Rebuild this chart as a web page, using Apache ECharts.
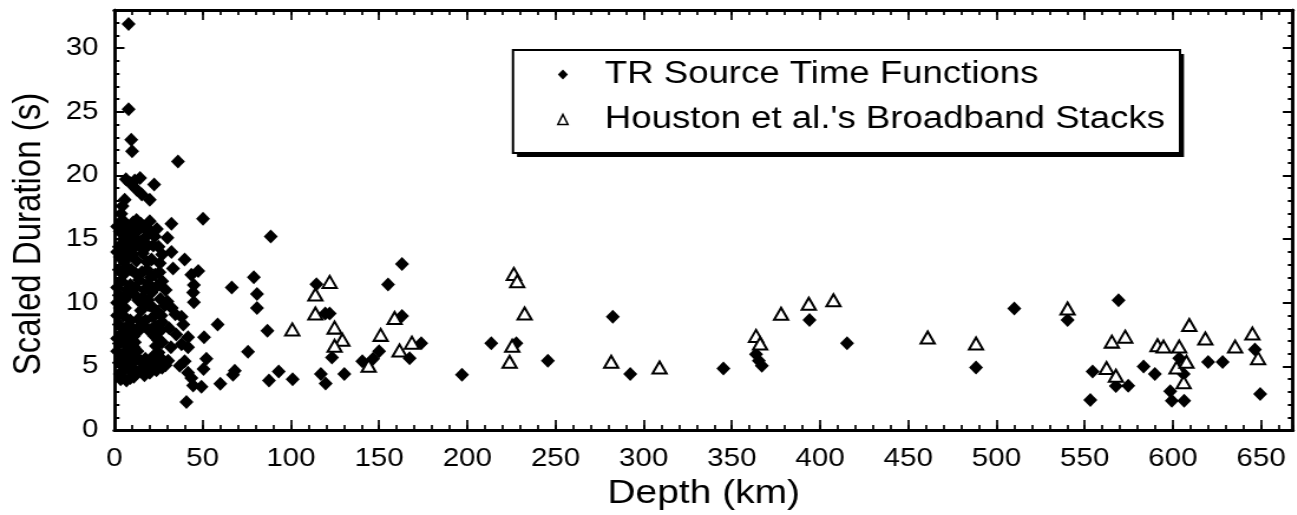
<!DOCTYPE html>
<html><head><meta charset="utf-8">
<script src="https://cdn.jsdelivr.net/npm/echarts@6/dist/echarts.min.js"></script>
<style>
html,body{margin:0;padding:0;background:#fff;overflow:hidden}
#wrap{width:1297px;height:515px;overflow:hidden}
#c{width:1099px;height:515px;transform:scaleX(1.18);transform-origin:0 0}
</style>
</head><body><div id="wrap"><div id="c"></div></div>
<script>
// TR Source Time Functions: [depth km, scaled duration s]
const trShallow = [
 [8,31.9],[8,25.2],[9.5,22.8],[10,21.9],[36,21.1],[6.5,19.7],[9,19.4],[11.5,19.6],[14.5,19.8],[22.5,19.3],
 [12.5,18.9],[15.5,18.5],[20,18.1],[5.8,18.1],[4.5,17.6],[3.8,17.0],[4.5,16.5],[12.5,16.5],[20,16.4],[6,16.1],
 [32.3,16.2],[9,15.9],[3,15.6],[7.8,15.5],[13.4,15.7],[17.2,15.1],[22.8,15.2],[30,15.1],[5,15.0],[10.5,15.2],
 [2.5,14.4],[8,14.7],[14,14.8],[19,14.5],[25,14.4],[32.3,14.0],[3,13.6],[5.5,13.2],[10,13.8],[16,13.9],
 [21,13.4],[39.8,13.4],[25.7,13.1],[33.2,12.7],[2.5,12.6],[7,12.8],[12,12.3],[18.5,12.6],[23,12.2],[43.6,12.2],
 [47.5,12.5],[4,11.7],[9,11.4],[14,11.8],[19,11.5],[24,11.3],[27,11.7],[45,11.4],[2.5,10.6],[6,10.3],
 [11,10.7],[16,10.4],[21,10.8],[26,10.3],[44.6,10.8],[30,10.1],[45,10.05],[3,9.6],[15,9.4],[19.5,9.8],
 [24.5,9.3],[32.5,9.6],[28.5,9.8],[5,9.0],[13.5,8.7],[22,8.9],[38,8.9],[34.5,9.1],[2.5,8.3],[7.5,8.2],
 [11,7.9],[23,8.2],[27,8.5],[39,8.3],[31,8.0],[4,7.6],[9,7.3],[13,7.7],[22.5,7.4],[26,7.8],
 [35,7.5],[41.7,7.3],[2.5,6.8],[7,6.6],[11.5,6.9],[23.5,6.6],[27,6.9],[41.7,6.5],[32,6.5],[38,6.75],
 [5,6.0],[9.5,5.8],[13,6.2],[22,5.8],[25,6.1],[2.5,5.3],[7,5.1],[11,5.4],[15.5,5.3],[19,5.0],
 [26.6,5.6],[30.4,5.45],[37,5.05],[39.8,5.4],[3,4.4],[8.7,4.7],[14.3,4.7],[20,4.5],[23.8,4.7],[41.7,4.5],
 [43.6,4.1],[6.8,3.9],[11,4.2],[17,4.3],[44.6,3.5],[49.3,3.4],[40.8,2.2],
 [1.5,16.0],[10.5,16.3],[15,16.2],[17.5,15.8],[20.5,15.6],[24,15.8],[1.5,14.0],[6,14.2],[11,14.3],[16.5,14.2],
 [22,14.5],[27,13.8],[12.5,13.3],[18.5,13.2],[7.5,13.6],[5,12.2],[9.5,12.6],[15.5,12.4],[20.5,12.0],[25.5,12.4],
 [1.5,11.2],[7,11.0],[12,11.2],[17,11.0],[22,11.1],[29,11.0],[13.5,10.2],[19,10.2],[8.5,10.8],[1.5,10.0],
 [6,9.6],[17,9.9],[22,9.6],[26.5,9.0],[17.5,8.6],[9,8.6],[1.5,9.0],[19,7.9],[15,8.2],[6,7.9],
 [1.5,7.2],[6,7.2],[11,7.4],[24.5,7.1],[1.5,6.2],[7,6.2],[11,6.5],[25,5.4],[4.5,5.6],[9,5.6],
 [13.5,5.6],[17.5,5.6],[21.5,5.3],[5,4.7],[11.5,4.7],[17,4.8],[3.5,4.0],[9,4.1],[27,4.9],[29,5.1]
];
const trDeep = [
 [50.2,16.6],[88.6,15.2],[66.5,11.2],[79,12.0],[80.8,10.7],[80.8,9.6],[58.5,8.3],[86.7,7.8],[50.8,7.3],[75.7,6.15],
 [52.1,5.6],[50.5,4.8],[68.2,4.66],[67.2,4.35],[60,3.65],[87.6,3.9],[93.1,4.6],[101,4.0],[114.5,11.45],[119.5,9.15],
 [122,9.15],[123.3,5.7],[117,4.4],[119.7,3.67],[130.3,4.4],[140.5,5.4],[146.6,5.6],[150,6.2],[155.1,11.43],[163,13.05],
 [163,8.96],[173.9,6.82],[167.3,5.65],[197,4.35],[213.6,6.82],[227.8,6.82],[245.7,5.44],[282.5,8.9],[292.4,4.4],[345.2,4.84],
 [363.7,5.96],[365.3,5.44],[367,5.05],[394,8.65],[415.3,6.82],[488.4,4.92],[510.1,9.55],[540.3,8.65],[569.2,10.2],[554.5,4.6],
 [553.2,2.37],[567.7,3.46],[574.7,3.49],[583.4,5.0],[589.8,4.4],[598.5,3.05],[599.4,2.3],[606.4,2.3],[603.6,5.65],[606.1,4.4],
 [620,5.34],[628.2,5.34],[646.5,6.33],[649.5,2.84]
];
// Houston et al.'s Broadband Stacks: [depth km, scaled duration s]
const houstonStacks = [
 [100.8,7.91],[113.9,10.65],[113.9,9.16],[122,11.64],[124.8,8.05],[129.2,7.09],[124.8,6.62],[144.1,5.05],[150.9,7.48],[158.8,8.8],
 [161.6,6.25],[168.6,6.87],[224,5.37],[225.5,6.62],[226.4,12.27],[228.3,11.7],[232.5,9.16],[281.6,5.37],[309,4.92],[363.7,7.4],
 [366,6.8],[377.9,9.14],[393.6,9.92],[407.6,10.2],[461,7.27],[488.4,6.8],[540.3,9.55],[565.4,6.95],[573,7.34],[562.4,4.87],
 [567.7,4.27],[609.3,8.26],[591.3,6.66],[594.7,6.56],[603.6,6.56],[602.1,4.92],[607.7,5.37],[606.1,3.75],[618.4,7.19],[635.3,6.56],
 [645.1,7.58],[648.3,5.65]
];
const seriesNames = ["TR Source Time Functions", "Houston et al.'s Broadband Stacks"];
const xTitle = "Depth (km)";
const yTitle = "Scaled Duration (s)";
const xMin = 0, xMax = 668, xMajor = 50, xMinor = 10;
const yMin = 0, yMax = 33, yMajor = 5, yMinor = 1;

// The reference figure is horizontally stretched; the chart is drawn narrower and scaled in X by S.
const S = 1.18;
const hx = v => v / S;  // convert a visual horizontal size to chart units

const FONT = "'Liberation Sans', Arial, Helvetica, sans-serif";
const chart = echarts.init(document.getElementById('c'), null, {renderer: 'canvas'});

function xAx(pos, interval, len, labels, extra) {
  return Object.assign({
    type: 'value', position: pos, min: xMin, max: xMax, interval: interval,
    axisLine: {show: true, onZero: false, lineStyle: {color: '#000', width: 3}},
    axisTick: {show: true, inside: true, length: len, lineStyle: {color: '#000', width: hx(2)}},
    axisLabel: {show: labels, color: '#000', fontSize: 25, fontFamily: FONT, margin: 17, showMaxLabel: false},
    splitLine: {show: false}
  }, extra || {});
}
function yAx(pos, interval, len, labels, extra) {
  return Object.assign({
    type: 'value', position: pos, min: yMin, max: yMax, interval: interval,
    axisLine: {show: true, onZero: false, lineStyle: {color: '#000', width: hx(3)}},
    axisTick: {show: true, inside: true, length: hx(len), lineStyle: {color: '#000', width: 2}},
    axisLabel: {show: labels, color: '#000', fontSize: 25, fontFamily: FONT, margin: hx(16), showMaxLabel: false},
    splitLine: {show: false}
  }, extra || {});
}

const boxL = hx(513), boxT = 50, boxW = hx(667), boxH = 103;

chart.setOption({
  animation: false,
  backgroundColor: '#fff',
  grid: {left: hx(113), right: hx(4), top: 10, bottom: 83, containLabel: false},
  xAxis: [
    xAx('bottom', xMajor, 10, true, {name: xTitle, nameLocation: 'middle', nameGap: 44,
      nameTextStyle: {color: '#000', fontSize: 33, fontFamily: FONT}}),
    xAx('bottom', xMinor, 5, false),
    xAx('top', xMajor, 10, false),
    xAx('top', xMinor, 5, false)
  ],
  yAxis: [
    yAx('left', yMajor, 10, true, {name: yTitle, nameLocation: 'middle', nameGap: 56,
      nameTextStyle: {color: '#000', fontSize: 33, fontFamily: FONT, padding: [0, 28, 0, 0]}}),
    yAx('left', yMinor, 5, false),
    yAx('right', yMajor, 10, false),
    yAx('right', yMinor, 5, false)
  ],
  graphic: [
    {type: 'rect', z: 3, shape: {x: boxL + hx(4), y: boxT + 4, width: boxW, height: boxH},
     style: {fill: '#000'}},
    {type: 'rect', z: 3, shape: {x: boxL, y: boxT, width: boxW, height: boxH},
     style: {fill: '#fff', stroke: '#000', lineWidth: 2}}
  ],
  legend: {
    z: 10,
    orient: 'vertical', left: boxL, top: boxT,
    padding: [9, 0, 0, hx(44)], itemGap: 14,
    itemWidth: hx(10), itemHeight: 10,
    textStyle: {color: '#000', fontSize: 31, fontFamily: FONT, padding: [0, 0, 0, hx(31)]},
    data: [
      {name: seriesNames[0], icon: 'diamond'},
      {name: seriesNames[1], icon: 'triangle', itemStyle: {color: '#fff', borderColor: '#000', borderWidth: 1.5}}
    ]
  },
  series: [
    {name: seriesNames[0], type: 'scatter', xAxisIndex: 0, yAxisIndex: 0,
     symbol: 'diamond', symbolSize: [hx(14), 14], itemStyle: {color: '#000', opacity: 1},
     data: trShallow.concat(trDeep)},
    {name: seriesNames[1], type: 'scatter', xAxisIndex: 0, yAxisIndex: 0,
     symbol: 'triangle', symbolSize: [hx(14), 12],
     itemStyle: {color: '#fff', borderColor: '#000', borderWidth: 2, opacity: 1},
     data: houstonStacks}
  ]
});
</script>
</body></html>
